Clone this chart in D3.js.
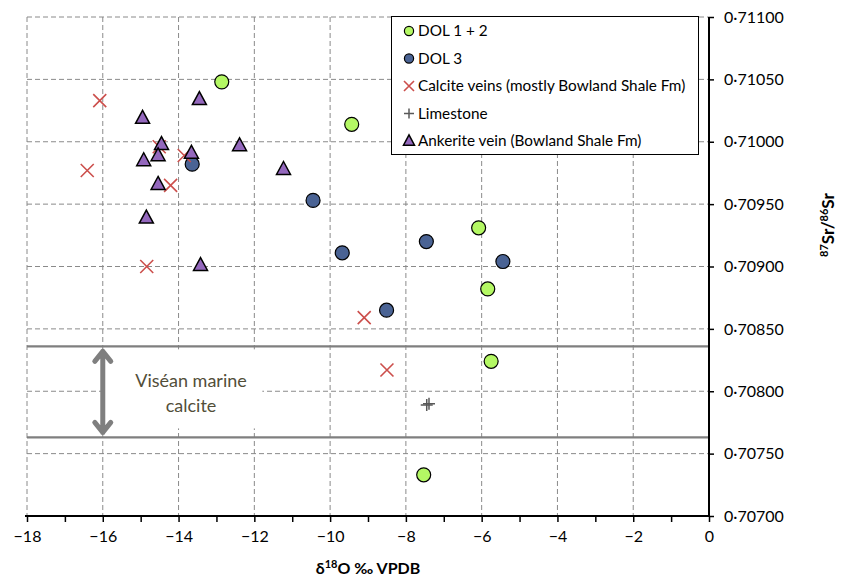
<!DOCTYPE html>
<html>
<head>
<meta charset="utf-8">
<script src="https://cdn.jsdelivr.net/npm/d3@7"></script>
<style>
  body { margin: 0; background: white; }
  text { font-family: Lato, 'Open Sans', sans-serif; }
</style>
</head>
<body>
<script>
  // d18O (permil VPDB), 87Sr/86Sr
  const dol12 = [
    { o: -12.86, sr: 0.71048 },
    { o: -9.43, sr: 0.71014 },
    { o: -6.08, sr: 0.70931 },
    { o: -5.84, sr: 0.70882 },
    { o: -5.75, sr: 0.70824 },
    { o: -7.53, sr: 0.70733 },
  ]
  const dol3 = [
    { o: -13.64, sr: 0.70982 },
    { o: -10.45, sr: 0.70953 },
    { o: -9.68, sr: 0.70911 },
    { o: -7.46, sr: 0.70920 },
    { o: -5.44, sr: 0.70904 },
    { o: -8.51, sr: 0.70865 },
  ]
  const calciteVeins = [
    { o: -16.08, sr: 0.71033 },
    { o: -16.41, sr: 0.70977 },
    { o: -14.51, sr: 0.70996 },
    { o: -13.85, sr: 0.70989 },
    { o: -14.21, sr: 0.70965 },
    { o: -14.84, sr: 0.70900 },
    { o: -9.10, sr: 0.70859 },
    { o: -8.50, sr: 0.70817 },
  ]
  const limestone = [
    { o: -7.45, sr: 0.70789 },
    { o: -7.39, sr: 0.70790 },
  ]
  const ankerite = [
    { o: -13.45, sr: 0.71034 },
    { o: -14.95, sr: 0.71019 },
    { o: -14.45, sr: 0.70998 },
    { o: -13.66, sr: 0.70991 },
    { o: -14.54, sr: 0.70989 },
    { o: -14.92, sr: 0.70985 },
    { o: -14.54, sr: 0.70966 },
    { o: -14.85, sr: 0.70939 },
    { o: -12.39, sr: 0.70997 },
    { o: -11.23, sr: 0.70978 },
    { o: -13.42, sr: 0.70901 },
  ]

  const xTicks = d3.range(-18, 1, 1);
  const xGrid = [-18, -16, -14, -12, -10, -8, -6, -4, -2];
  const yTicks = [0.707, 0.7075, 0.708, 0.7085, 0.709, 0.7095, 0.710, 0.7105, 0.711];
  const viseanBand = [0.70763, 0.70836];

  const legendItems = [
    { label: 'DOL 1 + 2', type: 'dol12' },
    { label: 'DOL 3', type: 'dol3' },
    { label: 'Calcite veins (mostly Bowland Shale Fm)', type: 'calcite' },
    { label: 'Limestone', type: 'limestone' },
    { label: 'Ankerite vein (Bowland Shale Fm)', type: 'ankerite' },
  ]

  const WIDTH = 843;
  const HEIGHT = 582;
  const LEFT = 27;
  const RIGHT = 709;
  const TOP = 17;
  const BOTTOM = 516;

  const GREEN = '#b4f864';
  const BLUE = '#4a6394';
  const RED = '#cc4f4c';
  const PURPLE = '#9468bd';
  const GRID = '#8a8a8a';

  const svg = d3.select('body').append('svg')
    .attr('width', WIDTH)
    .attr('height', HEIGHT);

  const x = d3.scaleLinear().domain([-18, 0]).range([LEFT, RIGHT]);
  const y = d3.scaleLinear().domain([0.707, 0.711]).range([BOTTOM, TOP]);

  // grid
  const grid = svg.append('g')
    .attr('stroke', GRID)
    .attr('stroke-width', 1)
    .attr('stroke-dasharray', '5,3');

  grid.selectAll('.vg')
    .data(xGrid)
    .enter()
    .append('line')
    .attr('x1', d => x(d)).attr('x2', d => x(d))
    .attr('y1', TOP).attr('y2', BOTTOM);

  grid.selectAll('.hg')
    .data(yTicks.slice(1))
    .enter()
    .append('line')
    .attr('x1', LEFT).attr('x2', RIGHT)
    .attr('y1', d => y(d)).attr('y2', d => y(d));

  // Visean marine calcite band
  svg.append('g')
    .selectAll('line')
    .data(viseanBand)
    .enter()
    .append('line')
    .attr('x1', LEFT).attr('x2', RIGHT)
    .attr('y1', d => y(d)).attr('y2', d => y(d))
    .attr('stroke', '#7f7f7f')
    .attr('stroke-width', 2.2);

  svg.append('rect')
    .attr('x', x(-16) + 4)
    .attr('y', y(viseanBand[1]) + 3)
    .attr('width', x(-12) - x(-16) + 4)
    .attr('height', y(viseanBand[0]) - y(viseanBand[1]) - 12)
    .attr('fill', 'white');

  const arrowX = x(-16);
  const arrowTop = y(viseanBand[1]) + 3;
  const arrowBot = y(viseanBand[0]) - 3;
  svg.append('path')
    .attr('d', `M${arrowX},${arrowTop + 2} L${arrowX},${arrowBot - 2} M${arrowX - 8},${arrowTop + 12} L${arrowX},${arrowTop + 2} L${arrowX + 8},${arrowTop + 12} M${arrowX - 8},${arrowBot - 12} L${arrowX},${arrowBot - 2} L${arrowX + 8},${arrowBot - 12}`)
    .attr('fill', 'none')
    .attr('stroke', '#7f7f7f')
    .attr('stroke-width', 5)
    .attr('stroke-linecap', 'round')
    .attr('stroke-linejoin', 'round');

  const bandText = svg.append('text')
    .attr('x', 191)
    .attr('y', 391)
    .attr('text-anchor', 'middle')
    .attr('font-size', 18)
    .attr('fill', '#524e39');
  bandText.append('tspan').attr('x', 191).attr('dy', '-0.2em').text('Viséan marine');
  bandText.append('tspan').attr('x', 191).attr('dy', '1.35em').text('calcite');

  // axes
  const axisX = d3.axisBottom(x)
    .tickValues(xTicks)
    .tickSize(6)
    .tickSizeOuter(0)
    .tickPadding(9)
    .tickFormat(d => d % 2 === 0 ? d3.format('')(d) : '');

  const gx = svg.append('g')
    .attr('transform', `translate(0,${BOTTOM})`)
    .call(axisX);
  gx.select('.domain').attr('stroke-width', 2).attr('d', `M${LEFT - 2},0H${RIGHT}`);
  gx.selectAll('.tick line').attr('stroke-width', 1.5);
  gx.selectAll('text').attr('font-size', 16).attr('fill', '#000')
    .attr('font-family', 'Lato, sans-serif');

  const axisY = d3.axisRight(y)
    .tickValues(yTicks)
    .tickSize(5)
    .tickSizeOuter(0)
    .tickPadding(10)
    .tickFormat(d => d3.format('.5f')(d).replace('.', '·'));

  const gy = svg.append('g')
    .attr('transform', `translate(${RIGHT},0)`)
    .call(axisY);
  gy.select('.domain').attr('stroke-width', 2).attr('d', `M0,${TOP}V${BOTTOM + 1}`);
  gy.selectAll('.tick line').attr('stroke-width', 1.5);
  gy.selectAll('text').attr('font-size', 16).attr('fill', '#000')
    .attr('font-family', 'Lato, sans-serif');

  // axis titles
  const xTitle = svg.append('text')
    .attr('x', (LEFT + RIGHT) / 2)
    .attr('y', 574)
    .attr('text-anchor', 'middle')
    .attr('font-size', 16)
    .attr('font-weight', 'bold');
  xTitle.append('tspan').text('δ');
  xTitle.append('tspan').attr('font-size', 11).attr('dy', -6).text('18');
  xTitle.append('tspan').attr('dy', 6).text('O ‰ VPDB');

  const yTitle = svg.append('text')
    .attr('transform', 'translate(834,225) rotate(-90)')
    .attr('text-anchor', 'middle')
    .attr('font-size', 17)
    .attr('font-weight', 'bold');
  yTitle.append('tspan').attr('font-size', 11).attr('dy', -6).text('87');
  yTitle.append('tspan').attr('dy', 6).text('Sr/');
  yTitle.append('tspan').attr('font-size', 11).attr('dy', -6).text('86');
  yTitle.append('tspan').attr('dy', 6).text('Sr');

  // markers
  function drawMarker(g, type, size) {
    if (type === 'dol12' || type === 'dol3') {
      g.append('circle')
        .attr('r', size)
        .attr('fill', type === 'dol12' ? GREEN : BLUE)
        .attr('stroke', '#000')
        .attr('stroke-width', 1.2);
    } else if (type === 'calcite') {
      g.append('path')
        .attr('d', `M${-size},${-size}L${size},${size}M${-size},${size}L${size},${-size}`)
        .attr('stroke', RED)
        .attr('stroke-width', 1.6)
        .attr('fill', 'none');
    } else if (type === 'limestone') {
      g.append('path')
        .attr('d', `M${-size},0H${size}M0,${-size}V${size}`)
        .attr('stroke', '#595959')
        .attr('stroke-width', 1.5)
        .attr('fill', 'none');
    } else {
      g.append('path')
        .attr('d', `M0,${-size * 1.1}L${size},${size * 0.75}L${-size},${size * 0.75}Z`)
        .attr('fill', PURPLE)
        .attr('stroke', '#000')
        .attr('stroke-width', 1.5)
        .attr('stroke-linejoin', 'miter');
    }
  }

  const series = [
    { data: dol12, type: 'dol12', size: 7 },
    { data: dol3, type: 'dol3', size: 7 },
    { data: calciteVeins, type: 'calcite', size: 6.5 },
    { data: limestone, type: 'limestone', size: 6 },
    { data: ankerite, type: 'ankerite', size: 7 },
  ]

  series.forEach(s => {
    svg.append('g')
      .selectAll('g')
      .data(s.data)
      .enter()
      .append('g')
      .attr('transform', d => `translate(${x(d.o)},${y(d.sr)})`)
      .each(function () { drawMarker(d3.select(this), s.type, s.size); });
  })

  // legend
  const legend = svg.append('g');
  legend.append('rect')
    .attr('x', 391.5).attr('y', 16.5)
    .attr('width', 307).attr('height', 138)
    .attr('fill', 'white')
    .attr('stroke', '#000')
    .attr('stroke-width', 1);

  const rows = legend.selectAll('.row')
    .data(legendItems)
    .enter()
    .append('g')
    .attr('transform', (d, i) => `translate(409,${31 + i * 27.5})`);

  rows.each(function (d) { drawMarker(d3.select(this), d.type, d.type === 'calcite' ? 5 : d.type === 'limestone' ? 5 : d.type === 'ankerite' ? 5.5 : 4.6); });

  rows.append('text')
    .attr('x', 9)
    .attr('dy', '0.35em')
    .attr('font-size', 15.3)
    .text(d => d.label);
</script>
</body>
</html>
